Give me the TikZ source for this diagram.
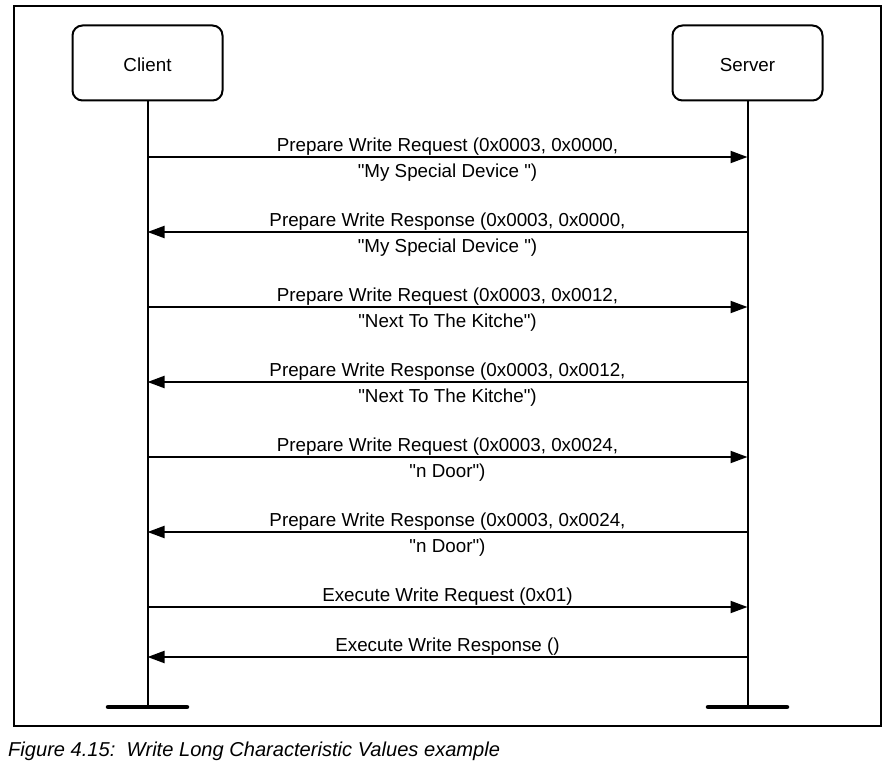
\documentclass[tikz,border=0pt]{standalone}
\usepackage{fontspec}
\setmainfont{Liberation Sans}
\usetikzlibrary{arrows.meta}
\newcommand{\qq}{\textquotedbl}
\begin{document}
\begin{tikzpicture}[x=1pt,y=-1pt,
  every node/.style={font=\fontsize{18.8}{26}\selectfont, inner sep=0pt},
  party/.style={draw, line width=2pt, rounded corners=10pt, minimum width=150pt, minimum height=75pt, text height=17.4pt, text depth=0pt},
  lifeline/.style={line width=2pt},
  endbar/.style={line width=4.5pt, line cap=round},
  msg/.style={line width=2pt, -{Triangle[length=17pt,width=12pt]}},
  lbl/.style={anchor=base}
]
\useasboundingbox (0,0) rectangle (895,768);
\draw[line width=2pt] (14,6) rectangle (881,726);

\node[party] (client) at (147.5,63) {Client};
\node[party] (server) at (747.5,63) {Server};

\coordinate (cend) at (147.5,707);
\coordinate (send) at (747.5,707);
\coordinate (cb1) at (108,707); \coordinate (cb2) at (187,707);
\coordinate (sb1) at (708,707); \coordinate (sb2) at (787,707);
\draw[lifeline] (client.south) -- (cend);
\draw[lifeline] (server.south) -- (send);
\draw[endbar] (cb1) -- (cb2);
\draw[endbar] (sb1) -- (sb2);

\foreach \i/\y in {1/157,2/232,3/307,4/382,5/457,6/532,7/607,8/657}{
  \coordinate (c\i) at (147.5,\y);
  \coordinate (s\i) at (747.5,\y);
}

\draw[msg] (c1) -- (s1)
  node[lbl, midway, yshift=6pt] {Prepare Write Request (0x0003, 0x0000,}
  node[lbl, midway, yshift=-20pt] {\qq My Special Device \qq)};
\draw[msg] (s2) -- (c2)
  node[lbl, midway, yshift=6pt] {Prepare Write Response (0x0003, 0x0000,}
  node[lbl, midway, yshift=-20pt] {\qq My Special Device \qq)};
\draw[msg] (c3) -- (s3)
  node[lbl, midway, yshift=6pt] {Prepare Write Request (0x0003, 0x0012,}
  node[lbl, midway, yshift=-20pt] {\qq Next To The Kitche\qq)};
\draw[msg] (s4) -- (c4)
  node[lbl, midway, yshift=6pt] {Prepare Write Response (0x0003, 0x0012,}
  node[lbl, midway, yshift=-20pt] {\qq Next To The Kitche\qq)};
\draw[msg] (c5) -- (s5)
  node[lbl, midway, yshift=6pt] {Prepare Write Request (0x0003, 0x0024,}
  node[lbl, midway, yshift=-20pt] {\qq n Door\qq)};
\draw[msg] (s6) -- (c6)
  node[lbl, midway, yshift=6pt] {Prepare Write Response (0x0003, 0x0024,}
  node[lbl, midway, yshift=-20pt] {\qq n Door\qq)};
\draw[msg] (c7) -- (s7)
  node[lbl, midway, yshift=6pt] {Execute Write Request (0x01)};
\draw[msg] (s8) -- (c8)
  node[lbl, midway, yshift=6pt] {Execute Write Response ()};

\node[anchor=base west, font=\fontsize{20.1}{24}\itshape] (caption) at (8,756) {Figure 4.15:\ \ Write Long Characteristic Values example};
\end{tikzpicture}
\end{document}
